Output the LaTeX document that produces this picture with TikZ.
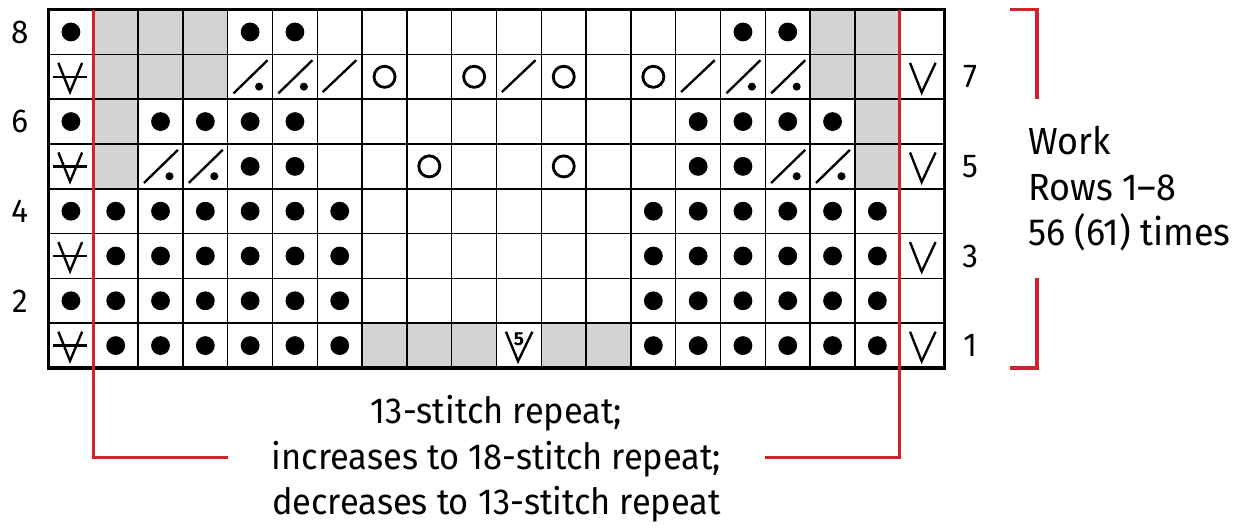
\documentclass[tikz,border=0pt]{standalone}
\usepackage{fontspec}
\setmainfont{Fira Sans}
\newfontfamily\chartfont[FakeStretch=0.95]{Fira Sans}
\usetikzlibrary{positioning}

\definecolor{repred}{RGB}{210,35,45}
\definecolor{nostitch}{RGB}{209,211,212}

\begin{document}
\begin{tikzpicture}[
  x=1cm, y=1cm,
  cellgrid/.style={draw=black, line width=0.95pt},
  chartframe/.style={draw=black, line width=2.2pt},
  repline/.style={draw=repred, line width=2.2pt},
  sym/.style={line width=1.5pt},
  rownum/.style={font=\chartfont\fontsize{21}{21}\selectfont, inner sep=0pt},
  lbl/.style={font=\chartfont\fontsize{23}{29}\selectfont, align=center, inner sep=0pt},
  sidelbl/.style={font=\chartfont\fontsize{24}{29}\selectfont, align=left, inner sep=0pt},
  purl/.pic={\fill (0,0) circle (0.21);},
  yo/.pic={\draw[sym, line width=1.8pt] (0,0) circle (0.235);},
  ktog/.pic={\draw[sym] (-0.38,-0.34) -- (0.37,0.37);},
  ptog/.pic={\draw[sym] (-0.37,-0.37) -- (0.39,0.37); \fill (0.2,-0.22) circle (0.09);},
  slipbar/.pic={\draw[sym] (-0.28,0.31) -- (-0.02,-0.34) -- (0.25,0.31);
                \draw[sym] (-0.4,0) -- (0.37,0);},
  slipv/.pic={\draw[sym] (-0.27,0.31) -- (-0.01,-0.35) -- (0.3,0.31);},
  incfive/.pic={\draw[sym] (-0.29,0.31) -- (-0.02,-0.35) -- (0.3,0.31);
                \node[font=\bfseries\fontsize{12}{12}\selectfont, inner sep=0pt] at (0,0.15) {5};},
]
\useasboundingbox (-1.083,-3.594) rectangle (26.55,8.214);

% ---- no-stitch cells (grey) ----
\foreach \c/\r in {2/8,3/8,4/8,18/8,19/8, 2/7,3/7,4/7,18/7,19/7,
                   2/6,19/6, 2/5,19/5, 8/1,9/1,10/1,12/1,13/1}
  \fill[nostitch] (\c-1,\r-1) rectangle (\c,\r);

% ---- grid ----
\draw[cellgrid] (0,0) grid (20,8);

% ---- purl dots ----
\foreach \c in {1,5,6,16,17} \pic at (\c-0.5,7.5) {purl};
\foreach \c in {1,3,4,5,6,15,16,17,18} \pic at (\c-0.5,5.5) {purl};
\foreach \c in {5,6,15,16} \pic at (\c-0.5,4.5) {purl};
\foreach \r in {1,2,3,4}
  \foreach \c in {2,...,7,14,15,...,19} \pic at (\c-0.5,\r-0.5) {purl};
\foreach \r in {2,4} \pic at (0.5,\r-0.5) {purl};

% ---- decreases and yarn-overs ----
\foreach \c in {8,10,12,14} \pic at (\c-0.5,6.5) {yo};
\foreach \c in {9,12} \pic at (\c-0.5,4.5) {yo};
\foreach \c in {7,11,15} \pic at (\c-0.5,6.5) {ktog};
\foreach \c in {5,6,16,17} \pic at (\c-0.5,6.5) {ptog};
\foreach \c in {3,4,17,18} \pic at (\c-0.5,4.5) {ptog};

% ---- edge slips and the 5-st increase ----
\foreach \r in {1,3,5,7} {
  \pic at (0.5,\r-0.5) {slipbar};
  \pic at (19.5,\r-0.5) {slipv};
}
\pic at (10.5,0.5) {incfive};

\draw[chartframe] (0,0) rectangle (20,8);

% ---- row numbers ----
\foreach \r in {2,4,6,8} \node[rownum] (rowL-\r) at (-0.64,\r-0.5) {\r};
\foreach \r in {1,3,5,7} \node[rownum] (rowR-\r) at (20.57,\r-0.5) {\r};

% ---- stitch repeat ----
\draw[repline] (1,8) -- (1,-2) -- (4,-2);
\draw[repline] (16,-2) -- (19,-2) -- (19,8);
\node[lbl] (rep) at (10,-2.03)
  {13-stitch repeat;\\increases to 18-stitch repeat;\\decreases to 13-stitch repeat};

% ---- row repeat ----
\draw[repline] (21.46,8) -- (22.06,8) -- (22.06,6);
\draw[repline] (22.06,2) -- (22.06,0) -- (21.46,0);
\node[sidelbl, anchor=west] (work) at (21.86,4.0) {Work\\Rows 1–8\\56 (61) times};
\end{tikzpicture}
\end{document}
